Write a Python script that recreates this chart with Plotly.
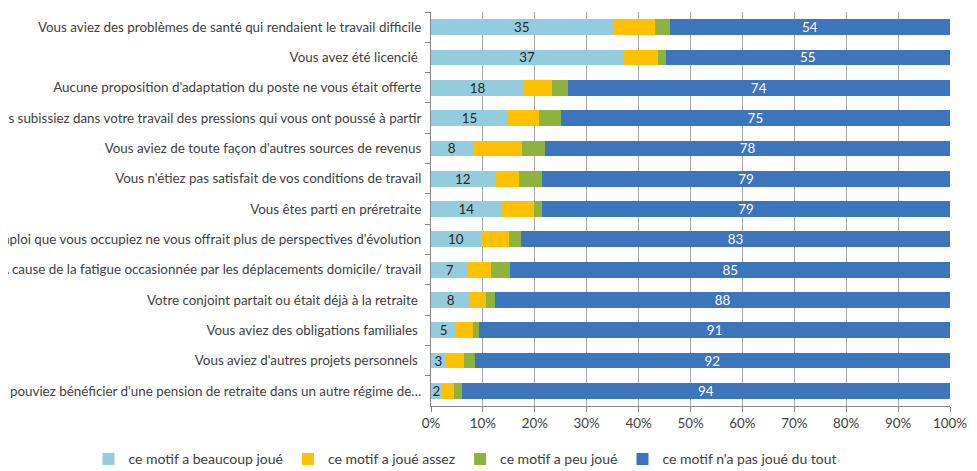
import plotly.graph_objects as go

categories = [
    "Vous aviez des problèmes de santé qui rendaient le travail difficile",
    "Vous avez été licencié\u00a0",
    "Aucune proposition d'adaptation du poste ne vous était offerte",
    "Vous subissiez dans votre travail des pressions qui vous ont poussé à partir",
    "Vous aviez de toute façon d'autres sources de revenus",
    "Vous n'étiez pas satisfait de vos conditions de travail",
    "Vous êtes parti en préretraite",
    "L'emploi que vous occupiez ne vous offrait plus de perspectives d'évolution",
    "À cause de la fatigue occasionnée par les déplacements domicile/ travail",
    "Votre conjoint partait ou était déjà à la retraite\u00a0",
    "Vous aviez des obligations familiales\u00a0",
    "Vous aviez d'autres projets personnels\u00a0",
    "Vous pouviez bénéficier d'une pension de retraite dans un autre régime de…",
]

beaucoup = [35.0, 37.0, 18.0, 14.8, 8.0, 12.3, 13.6, 9.6, 7.2, 7.6, 4.9, 2.9, 2.1]
assez = [8.2, 6.8, 5.3, 6.0, 9.5, 4.7, 6.3, 5.4, 4.3, 3.0, 3.1, 3.5, 2.3]
peu = [2.8, 1.4, 3.0, 4.2, 4.5, 4.4, 1.5, 2.4, 3.8, 1.8, 1.3, 2.0, 1.5]
pas_du_tout = [54.0, 54.8, 73.7, 75.0, 78.0, 78.6, 78.6, 82.6, 84.7, 87.6, 90.7, 91.6, 94.1]

series_names = [
    "ce motif a beaucoup joué",
    "ce motif a joué assez",
    "ce motif a peu joué",
    "ce motif n'a pas joué du tout",
]
colors = ["#93CDDD", "#FFC000", "#8DB33E", "#3C75BC"]

FONT = "Lato, 'Open Sans', sans-serif"
FS = 13.4

fig = go.Figure()
series = [beaucoup, assez, peu, pas_du_tout]
for i, (vals, name, col) in enumerate(zip(series, series_names, colors)):
    show_text = i in (0, 3)
    fig.add_trace(go.Bar(
        x=vals,
        y=categories,
        orientation="h",
        name=name,
        marker=dict(color=col, line=dict(width=0)),
        texttemplate="%{x:.0f}" if show_text else None,
        textposition="inside" if show_text else "none",
        insidetextanchor="middle",
        textangle=0,
        constraintext="none",
        textfont=dict(family=FONT, size=FS, color="#262626" if i == 0 else "#ffffff"),
        hoverinfo="x+y+name",
    ))

# page body has an 8px margin; compensate so the chart lands where the reference has it
fig.update_layout(
    barmode="stack",
    bargap=0.48,
    width=969,
    height=463,
    margin=dict(l=423, r=27, t=4, b=65, autoexpand=False),
    paper_bgcolor="white",
    plot_bgcolor="white",
    font=dict(family=FONT, size=FS, color="#404040"),
    showlegend=True,
    legend=dict(
        orientation="h",
        x=-0.66,
        xanchor="left",
        y=-0.095,
        yanchor="top",
        font=dict(family=FONT, size=14, color="#404040"),
        traceorder="normal",
        itemwidth=30,
    ),
    xaxis=dict(
        range=[0, 100],
        tickvals=[0, 10, 20, 30, 40, 50, 60, 70, 80, 90, 100],
        ticktext=["0%", "10%", "20%", "30%", "40%", "50%", "60%", "70%", "80%", "90%", "100%"],
        showgrid=True,
        gridcolor="#A6A6A6",
        gridwidth=1,
        zeroline=False,
        showline=True,
        linecolor="#868686",
        ticks="outside",
        ticklen=5,
        tickcolor="#868686",
        tickfont=dict(family=FONT, size=FS, color="#404040"),
        fixedrange=True,
    ),
    yaxis=dict(
        type="category",
        categoryorder="array",
        categoryarray=categories,
        autorange="reversed",
        showline=True,
        linecolor="#868686",
        ticks="outside",
        tickson="boundaries",
        ticklen=5,
        tickcolor="#868686",
        ticklabelstandoff=6,
        showgrid=False,
        tickfont=dict(family=FONT, size=FS, color="#404040"),
        automargin=False,
        fixedrange=True,
    ),
)

fig.write_html("out.html")
